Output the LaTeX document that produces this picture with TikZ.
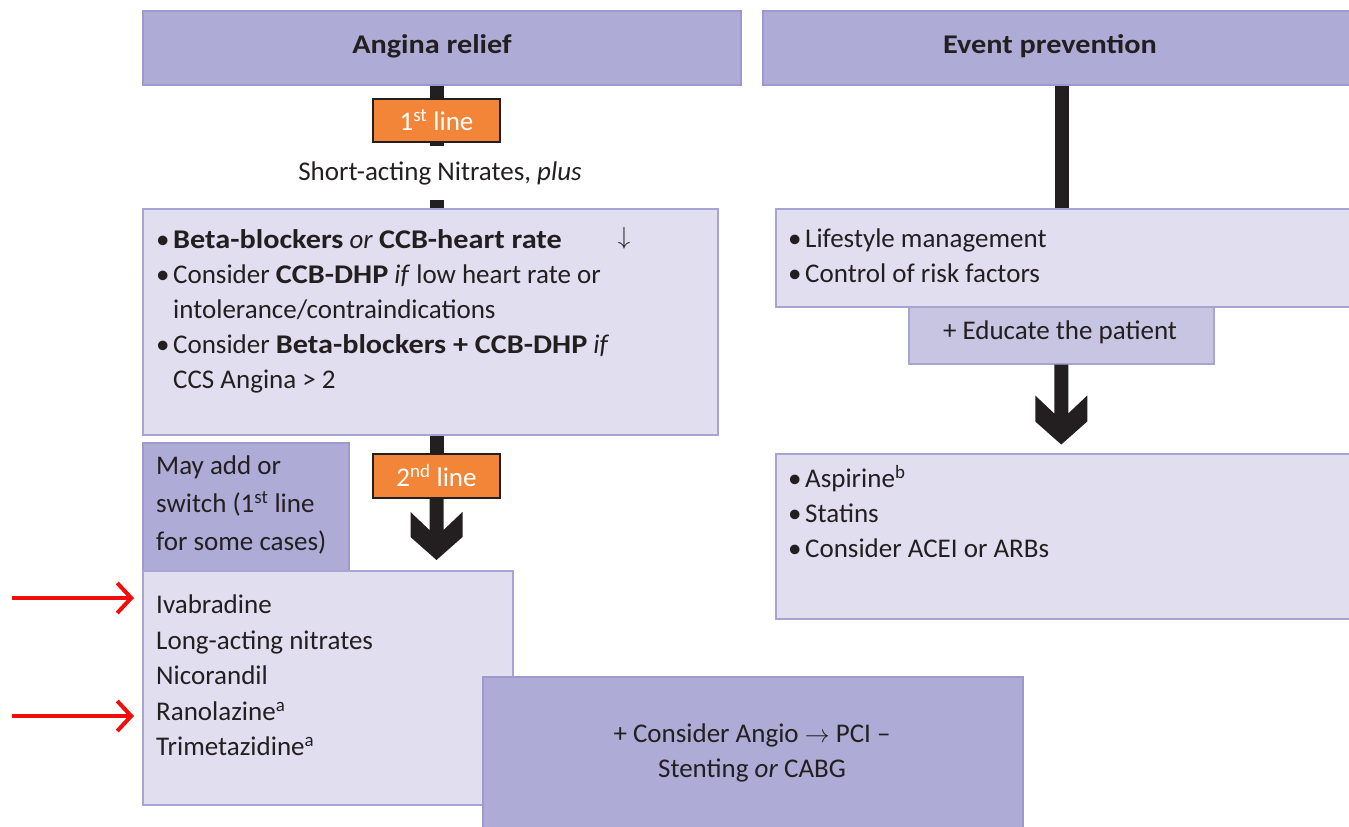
\documentclass[tikz,border=0pt]{standalone}
\usepackage{fontspec}
\setmainfont{Carlito}[BoldFeatures={FakeStretch=1.12}]
\usetikzlibrary{arrows.meta,calc}
\definecolor{hdrfill}{HTML}{AEABD6}
\definecolor{hdrline}{HTML}{9D99CC}
\definecolor{lightfill}{HTML}{E0DEEF}
\definecolor{lightline}{HTML}{A7A3D2}
\definecolor{edufill}{HTML}{C8C5E3}
\definecolor{orangefill}{HTML}{F38539}
\definecolor{ink}{HTML}{231F20}
\definecolor{redarrow}{HTML}{F20D0D}
\newcommand{\fs}{\fontsize{27}{35}\selectfont}
\newcommand{\bul}{\makebox[17pt][l]{•}}
\newcommand{\ind}{\hspace*{17pt}}
\begin{document}
\begin{tikzpicture}[x=1pt,y=-1pt,
  hdrbox/.style={draw=hdrline,fill=hdrfill,line width=1.5pt,anchor=north west,inner sep=0},
  lightbox/.style={draw=lightline,fill=lightfill,line width=1.5pt,anchor=north west,inner sep=0},
  edubox/.style={draw=lightline,fill=edufill,line width=1.5pt,anchor=north west,inner sep=0},
  linebox/.style={draw=ink,fill=orangefill,line width=2pt,anchor=north west,inner sep=0,text=white,font=\fontsize{27}{30}\selectfont},
  txt/.style={inner sep=0,align=left,font=\fs,text=ink,anchor=north west},
  ctxt/.style={inner sep=0,align=center,font=\fs,text=ink},
  conn/.style={draw=ink,line width=14pt},
  blk/.style={fill=ink},
  redarr/.style={draw=redarrow,line width=4pt,-{Straight Barb[length=14pt,width=30pt,line width=4pt]}}
]
\useasboundingbox (0,0) rectangle (1349,827);

% headers
\node[hdrbox,minimum width=598,minimum height=74] (hdrA) at (142,10) {};
\node[ctxt,font=\fontsize{27}{30}\selectfont\bfseries] (hdrAt) at (432,46) {Angina relief};
\node[hdrbox,minimum width=590,minimum height=74] (hdrE) at (762,10) {};
\node[ctxt,font=\fontsize{27}{30}\selectfont\bfseries] (hdrEt) at (1050,46) {Event prevention};

% left column
\node[linebox,minimum width=127,minimum height=43] (first) at (372,98) {1\textsuperscript{st} line};
\node[ctxt,minimum height=53] (sa) at (440,173) {Short-acting Nitrates, \textit{plus}};
\node[lightbox,minimum width=575,minimum height=226] (b1) at (142,208) {};
\node[txt] (b1t) at (156,229) {\bul\textbf{Beta-blockers} \textit{or} \textbf{CCB-heart rate}\\
\bul Consider \textbf{CCB-DHP} \textit{if} low heart rate or\\
\ind intolerance/contraindications\\
\bul Consider \textbf{Beta-blockers + CCB-DHP} \textit{if}\\
\ind CCS Angina > 2};
\node[ctxt,font=\fontsize{30}{30}\selectfont] (darr) at (624,238) {$\downarrow$};

\draw[conn] (first.north |- hdrA.south) -- (first.north);
\draw[conn] (first.south) -- (first.south |- sa.north);
\draw[conn] (first.south |- sa.south) -- (first.south |- b1.north);

\node[linebox,minimum width=127,minimum height=44] (second) at (372,453) {2\textsuperscript{nd} line};
\draw[conn] (second.north |- b1.south) -- (second.north);
\fill[blk] ($(second.south)+(-7,0)$) -- ++(0,31) -- ++(-19,-18) -- ++(0,25) -- ++(26,23) -- ++(26,-23) -- ++(0,-25) -- ++(-19,18) -- ++(0,-31) -- cycle;

\node[hdrbox,minimum width=206,minimum height=128] (may) at (142,442) {};
\node[txt,font=\fontsize{27}{38}\selectfont] (mayt) at (156,456) {May add or\\ switch (1\textsuperscript{st} line\\ for some cases)};

\node[lightbox,minimum width=370,minimum height=234] (drugs) at (142,570) {};
\node[txt,font=\fontsize{27}{35.5}\selectfont] (drugst) at (156,595) {Ivabradine\\ Long-acting nitrates\\ Nicorandil\\ Ranolazine\textsuperscript{a}\\ Trimetazidine\textsuperscript{a}};

\node[hdrbox,minimum width=540,minimum height=155] (angio) at (482,676) {};
\node[ctxt] (angiot) at (752,753) {+ Consider Angio $\rightarrow$ PCI –\\ Stenting \textit{or} CABG};

% red arrows
\coordinate (ra1) at (12,598);
\coordinate (ra2) at (12,716);
\draw[redarr,shorten >=8pt] (ra1) -- (ra1 -| drugs.west);
\draw[redarr,shorten >=8pt] (ra2) -- (ra2 -| drugs.west);

% right column
\node[lightbox,minimum width=580,minimum height=98] (life) at (775,208) {};
\node[txt] (lifet) at (788,229) {\bul Lifestyle management\\ \bul Control of risk factors};
\node[edubox,minimum width=305,minimum height=57] (edu) at (908,306) {};
\node[ctxt] (edut) at (1060,332) {+ Educate the patient};
\coordinate (ec) at (1062,0);
\draw[conn] (ec |- hdrE.south) -- (ec |- life.north);
\fill[blk] ($(edu.south)+(-7,0)$) -- ++(0,49) -- ++(-19,-18) -- ++(0,26) -- ++(26,23) -- ++(26,-23) -- ++(0,-26) -- ++(-19,18) -- ++(0,-49) -- cycle;

\node[lightbox,minimum width=580,minimum height=165] (asp) at (775,453) {};
\node[txt] (aspt) at (788,465) {\bul Aspirine\textsuperscript{b}\\ \bul Statins\\ \bul Consider ACEI or ARBs};
\end{tikzpicture}
\end{document}
